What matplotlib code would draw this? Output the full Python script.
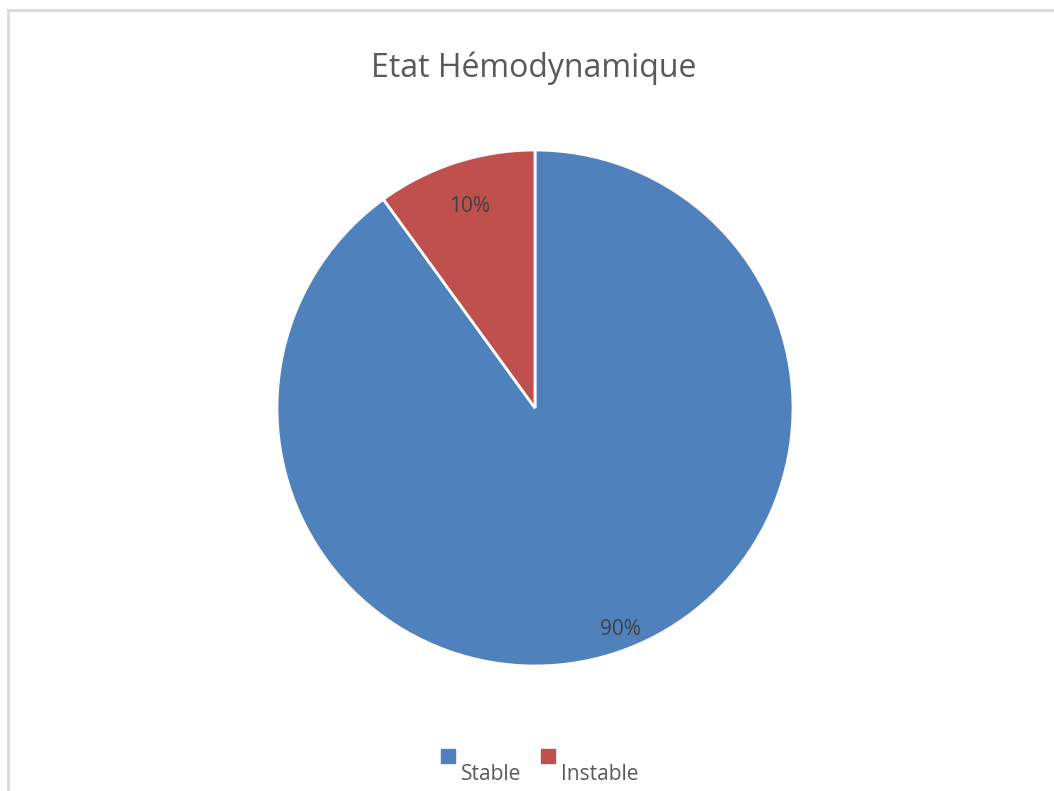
import numpy as np
import matplotlib.pyplot as plt
from matplotlib.patches import Rectangle
from matplotlib.lines import Line2D

# données
categories = ['Stable', 'Instable']
pourcentages = [90, 10]
couleurs = ['#4f81bd', '#c0504d']
titre = 'Etat Hémodynamique'

plt.rcParams['font.family'] = ['Open Sans', 'DejaVu Sans']

W, H = 1054, 791
fig = plt.figure(figsize=(W / 100, H / 100), dpi=100)
ax = fig.add_axes([0, 0, 1, 1])

# cadre du graphique (gris clair, haut et gauche)
ax.add_line(Line2D([8, 8], [0, H - 9.5], color='#d9d9d9', lw=2))
ax.add_line(Line2D([8, W], [H - 9.5, H - 9.5], color='#d9d9d9', lw=2))

cx, cy, r = 535, H - 408, 258
wedges, _ = ax.pie(pourcentages, colors=couleurs, startangle=90, counterclock=False,
                   center=(cx, cy), radius=r, frame=True,
                   wedgeprops=dict(edgecolor='white', linewidth=2))
ax.set_xlim(0, W)
ax.set_ylim(0, H)
ax.set_aspect('equal')
ax.axis('off')

# étiquettes de pourcentage dans les secteurs (distance, décalage angulaire)
positions = [(0.92, 3.0), (0.82, 0.0)]
for w, pct, (d, da) in zip(wedges, pourcentages, positions):
    ang = np.deg2rad((w.theta1 + w.theta2) / 2 + da)
    ax.text(cx + d * r * np.cos(ang), cy + d * r * np.sin(ang), f'{pct}%',
            ha='center', va='center', fontsize=15, color='#404040')

ax.text(534, H - 77, titre, ha='center', va='baseline', fontsize=23, color='#595959')

# légende en bas
leg_x = [441, 541]
for x, lab, col in zip(leg_x, categories, couleurs):
    ax.add_patch(Rectangle((x, H - 763), 14, 14, color=col))
    ax.text(x + 20, H - 780, lab, ha='left', va='baseline', fontsize=15, color='#595959')

fig.savefig('out.png', dpi=100)
